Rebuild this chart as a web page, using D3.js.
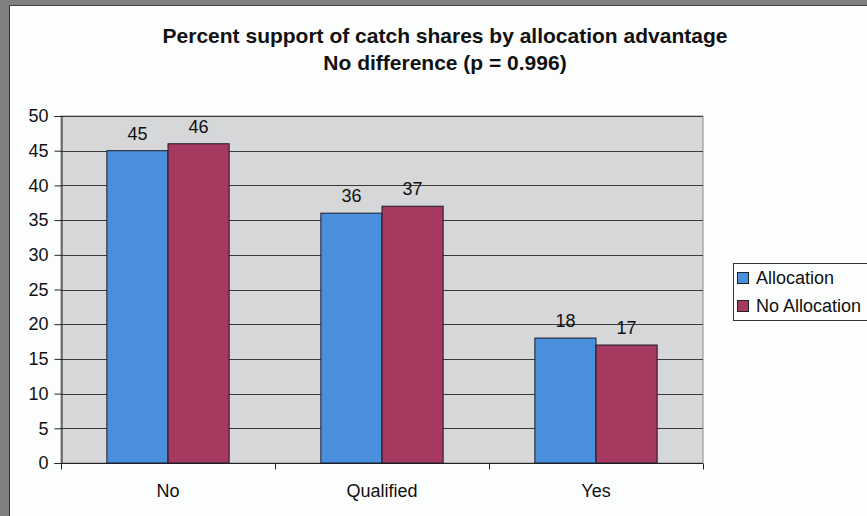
<!DOCTYPE html>
<html><head><meta charset="utf-8">
<script src="https://cdn.jsdelivr.net/npm/d3@7/dist/d3.min.js"></script>
<style>
html,body{margin:0;padding:0;background:#fcfdfd;}
svg{display:block;font-family:"Liberation Sans",Arial,sans-serif;}
</style></head>
<body>
<svg id="chart" width="867" height="516"></svg>
<script>
const categories = ["No", "Qualified", "Yes"];
const seriesNames = ["Allocation", "No Allocation"];
const allocation = [45, 36, 18];
const noAllocation = [46, 37, 17];
const yTicks = [0, 5, 10, 15, 20, 25, 30, 35, 40, 45, 50];
const titleLines = ["Percent support of catch shares by allocation advantage", "No difference (p = 0.996)"];

(function(){
const colors = ["#4a8fdb", "#a5395f"];
const svg = d3.select("#chart");
const FS = "18px";

// page frame
svg.append("rect").attr("x",0).attr("y",0).attr("width",867).attr("height",516).attr("fill","#fcfdfd");
svg.append("rect").attr("x",0).attr("y",0).attr("width",9).attr("height",516).attr("fill","#808080");
svg.append("rect").attr("x",0).attr("y",0).attr("width",867).attr("height",5).attr("fill","#808080");
svg.append("line").attr("x1",9.5).attr("x2",9.5).attr("y1",5).attr("y2",516).attr("stroke","#333").attr("stroke-width",1);
svg.append("line").attr("x1",9).attr("x2",867).attr("y1",5.5).attr("y2",5.5).attr("stroke","#444").attr("stroke-width",1);

const pL = 61, pR = 703, pT = 116, pB = 463;
const x0 = d3.scaleBand().domain(categories).range([pL, pR]).paddingInner(0).paddingOuter(0);
const y = d3.scaleLinear().domain([0, 50]).range([pB, pT]);

// plot area
svg.append("rect").attr("x",pL).attr("y",pT).attr("width",pR-pL).attr("height",pB-pT)
  .attr("fill","#d6d7d8").attr("stroke","#8a8a8a").attr("stroke-width",1);

// gridlines
svg.append("g").selectAll("line").data(yTicks.filter(d=>d>0)).join("line")
  .attr("x1",pL).attr("x2",pR)
  .attr("y1",d=>Math.round(y(d))+0.5).attr("y2",d=>Math.round(y(d))+0.5)
  .attr("stroke","#3a3a3a").attr("stroke-width",1);

// y axis
const yAxis = svg.append("g").attr("transform",`translate(${pL+0.5},0)`)
  .call(d3.axisLeft(y).tickValues(yTicks).tickSize(7).tickPadding(6).tickFormat(d3.format("d")));
yAxis.select(".domain").attr("stroke","#222");
yAxis.selectAll(".tick line").attr("stroke","#222");
yAxis.selectAll(".tick text").attr("font-size",FS).attr("fill","#111").attr("font-family","Liberation Sans, Arial, sans-serif");

// x axis
const xAxisG = svg.append("g").attr("transform",`translate(0,${pB+0.5})`);
xAxisG.append("line").attr("x1",pL).attr("x2",pR).attr("stroke","#222");
xAxisG.selectAll("line.tk").data(d3.range(categories.length+1)).join("line").attr("class","tk")
  .attr("x1",i=>Math.round(pL + i*x0.bandwidth())+0.5).attr("x2",i=>Math.round(pL + i*x0.bandwidth())+0.5)
  .attr("y1",0).attr("y2",6).attr("stroke","#222");
xAxisG.selectAll("text").data(categories).join("text")
  .attr("x",d=>x0(d)+x0.bandwidth()/2).attr("y",33)
  .attr("text-anchor","middle").attr("font-size",FS).attr("fill","#111").text(d=>d);

// bars
const rows = categories.map((c,i)=>({cat:c, vals:[allocation[i], noAllocation[i]]}));
const w = x0.bandwidth()/3.5;
const g = svg.append("g").selectAll("g").data(rows).join("g")
  .attr("transform",d=>`translate(${x0(d.cat)},0)`);
g.selectAll("rect").data(d=>d.vals.map((v,j)=>({v,j}))).join("rect")
  .attr("x",d=>0.75*w + d.j*w).attr("width",w)
  .attr("y",d=>y(d.v)).attr("height",d=>pB-y(d.v))
  .attr("fill",d=>colors[d.j]).attr("stroke","#1a1a2a").attr("stroke-width",1);
g.selectAll("text").data(d=>d.vals.map((v,j)=>({v,j}))).join("text")
  .attr("x",d=>0.75*w + d.j*w + w/2).attr("y",d=>y(d.v)-11)
  .attr("text-anchor","middle").attr("font-size",FS).attr("fill","#111").text(d=>d.v);

// title
svg.append("g").selectAll("text").data(titleLines).join("text")
  .attr("x",445).attr("y",(d,i)=>43+i*27)
  .attr("text-anchor","middle").attr("font-size","21px").attr("font-weight","bold").attr("fill","#111")
  .text(d=>d);

// legend
const lg = svg.append("g");
lg.append("rect").attr("x",733.5).attr("y",263.5).attr("width",140).attr("height",57)
  .attr("fill","#fcfdfd").attr("stroke","#333");
seriesNames.forEach((s,i)=>{
  lg.append("rect").attr("x",737.5).attr("y",272.5+i*28).attr("width",11).attr("height",11)
    .attr("fill",colors[i]).attr("stroke","#222");
  lg.append("text").attr("x",756).attr("y",284+i*28).attr("font-size",FS).attr("fill","#111").text(s);
});
})();
</script>
</body></html>
